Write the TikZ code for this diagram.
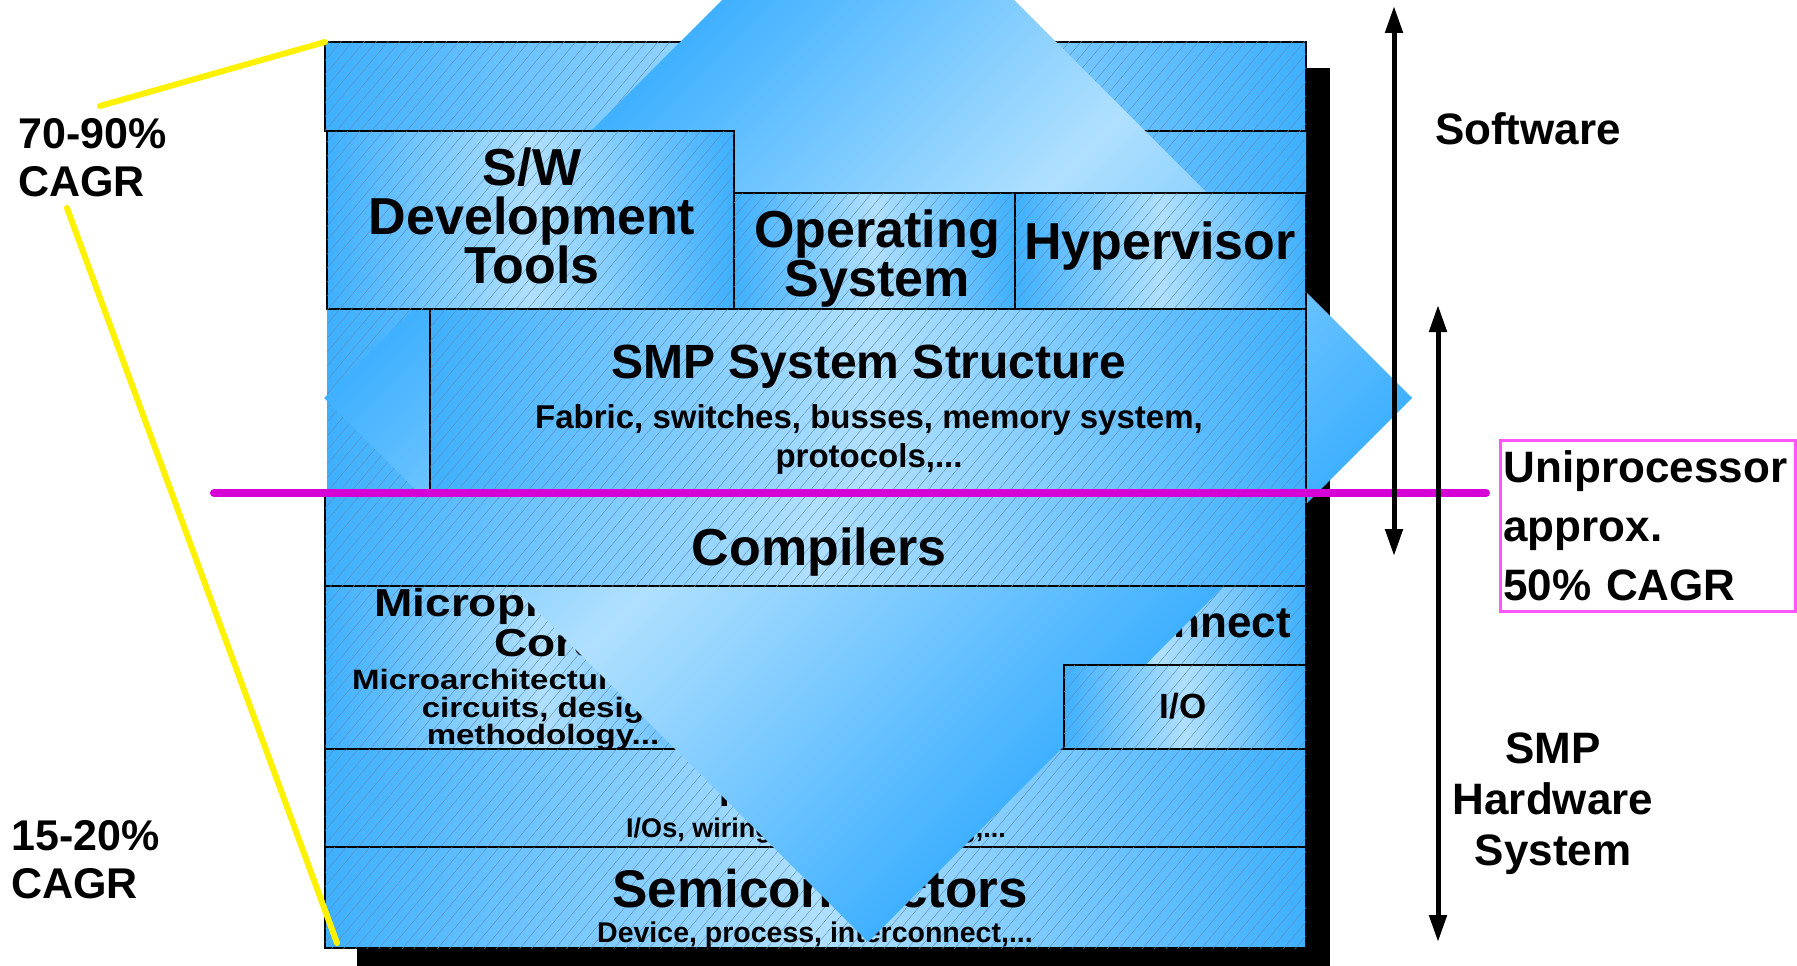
\documentclass[tikz,border=0pt]{standalone}
\usepackage{fontspec}
\setmainfont{Liberation Sans}
\newfontfamily\widesf[FakeStretch=1.18]{Liberation Sans}
\usetikzlibrary{arrows.meta,patterns.meta}
\definecolor{dkblue}{RGB}{62,176,255}
\definecolor{ltblue}{RGB}{176,224,255}
\definecolor{hatchc}{RGB}{95,140,185}
\definecolor{magline}{RGB}{213,0,213}
\definecolor{magbox}{RGB}{255,85,255}
\pgfdeclareverticalshading{diamshade}{100bp}{color(0bp)=(dkblue); color(32bp)=(dkblue); color(51bp)=(ltblue); color(68bp)=(dkblue); color(100bp)=(dkblue)}

\begin{document}
\begin{tikzpicture}[x=1pt, y=-1pt,
  blk/.style={draw, line width=1.5pt, anchor=north west, inner sep=0pt, outer sep=0pt,
    left color=dkblue, right color=dkblue, middle color=ltblue,
    postaction={pattern={Lines[angle=50,distance=9pt,line width=0.4pt]}, pattern color=hatchc}},
  t52/.style={font=\fontsize{52}{49}\selectfont\bfseries, align=center, inner sep=0pt},
  t53/.style={font=\fontsize{53}{50}\selectfont\bfseries, inner sep=0pt},
  t48/.style={font=\fontsize{48}{46}\selectfont\bfseries, inner sep=0pt},
  t44/.style={font=\fontsize{44}{51}\selectfont\bfseries, inner sep=0pt},
  t43/.style={font=\fontsize{43}{48}\selectfont\bfseries, inner sep=0pt},
  t38/.style={font=\fontsize{38}{40}\selectfont\bfseries, inner sep=0pt},
  t35/.style={font=\fontsize{35}{38}\selectfont\bfseries, inner sep=0pt},
  t33/.style={font=\fontsize{33}{39}\selectfont\bfseries, align=center, inner sep=0pt},
  t28/.style={font=\fontsize{28.5}{30}\selectfont\bfseries, inner sep=0pt},
  t27/.style={font=\fontsize{27}{30}\selectfont\bfseries, inner sep=0pt},
  w39/.style={font=\widesf\fontsize{39}{40}\selectfont\bfseries, align=center, inner sep=0pt},
  w28/.style={font=\widesf\fontsize{28}{25.5}\selectfont\bfseries, align=center, inner sep=0pt},
  yel/.style={draw=yellow, line width=6pt, line cap=round},
  magl/.style={draw=magline, line width=8pt, line cap=round},
  dbl/.style={line width=5pt, {Triangle[length=27pt,width=17pt]}-{Triangle[length=27pt,width=17pt]}}]

  \useasboundingbox (0,0) rectangle (1797,966);

  \fill (357,68) rectangle (1330,980);

  \node (0) [blk, draw=none, minimum width=979, minimum height=906] at (327,42) {};
  \node (1) [blk, minimum width=981, minimum height=89] at (325,42) {};
  \node (51) [blk, minimum width=435, minimum height=163] at (325,586) {};
  \node (52) [blk, minimum width=291, minimum height=79] at (1015,586) {};
  \node (6) [blk, minimum width=981, minimum height=98] at (325,749) {};
  \node (7) [blk, minimum width=981, minimum height=101] at (325,847) {};

  \node (51a) [w39] at (547,623) {Microprocessor\\Core};
  \node (51b) [w28] at (543,710) {Microarchitecture, logic,\\circuits, design\\methodology...};
  \node (52a) [t44, anchor=base east] at (1291,637) {Interconnect};
  \node (6a) [t38, anchor=base] at (815,806) {Packaging};
  \node (6b) [t27, anchor=base] at (816,837) {I/Os, wiring, power, cooling,...};
  \node (7a) [t53, anchor=base] at (820,907) {Semiconductors};
  \node (7b) [t28, anchor=base] at (815,942) {Device, process, interconnect,...};

  \shade [shading=diamshade, shading angle=45] (868,-146) -- (1412,398) -- (868,942) -- (324,398) -- cycle;

  \node (21) [blk, minimum width=407, minimum height=178] at (327,131) {};
  \node (22) [blk, anchor=south west, minimum width=281, minimum height=116] at (21.south east) {};
  \node (23) [blk, anchor=south west, minimum width=291, minimum height=116] at (22.south east) {};
  \node (3) [blk, anchor=north east, minimum width=876, minimum height=184] at (23.south east) {};
  \node (4) [blk, minimum width=981, minimum height=93] at (325,493) {};
  \node (53) [blk, anchor=south east, minimum width=242, minimum height=84] at (4.east |- 51.south) {};

  \node (21a) [t52] at (532,216) {S/W\\Development\\Tools};
  \node (22a) [t52] at (877,259) {Operating\\System};
  \node (23a) [t52] at (1160,246) {Hypervisor};
  \node (3a) [t48, anchor=base] at (869,378) {SMP System Structure};
  \node (3b) [t33] at (869,439) {Fabric, switches, busses, memory system,\\protocols,...};
  \node (4a) [t52, anchor=base] at (819,565) {Compilers};
  \node (53a) [t35, anchor=base] at (1183,718) {I/O};

  \coordinate (m1) at (214,493);
  \coordinate (m2) at (1486,493);
  \draw [magl] (m1) -- (m2);

  \coordinate (y1) at (100,106);
  \coordinate (y2) at (67,208);
  \coordinate (y3) at (337,943);
  \draw [yel] (y1) -- (1.north west);
  \draw [yel] (y2) -- (y3);

  \coordinate (a1) at (1394,6);
  \coordinate (a2) at (1394,556);
  \coordinate (b1) at (1438,305);
  \coordinate (b2) at (1438,942);
  \draw [dbl] (a1) -- (a2);
  \draw [dbl] (b1) -- (b2);

  \node (sw) [t44, anchor=base] at (1528,144) {Software};
  \node (hw) [t44, align=center] at (1553,804) {SMP\\Hardware\\System};
  \node (up) [t44, draw=magbox, line width=3pt, align=left, anchor=north west, text width=289pt, inner xsep=3pt, minimum height=171] at (1499,439) {Uniprocessor\\[8pt]approx.\\[8pt]50\% CAGR};
  \node (c1) [t43, align=left, anchor=west] at (18,158) {70-90\%\\CAGR};
  \node (c2) [t43, align=left, anchor=west] at (11,860) {15-20\%\\CAGR};
\end{tikzpicture}
\end{document}
